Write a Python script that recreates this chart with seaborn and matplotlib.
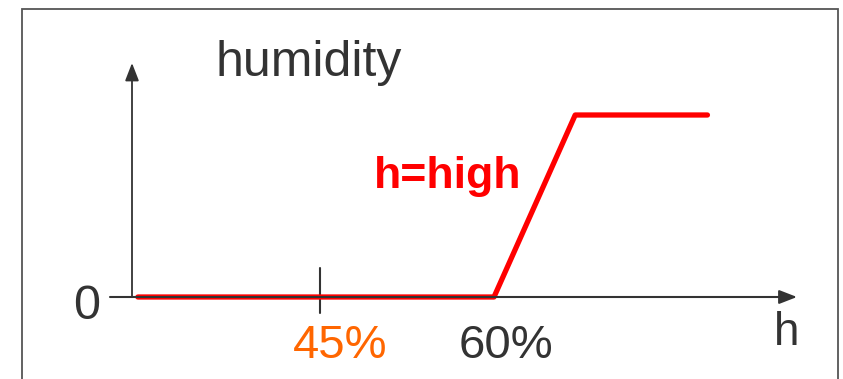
import pandas as pd
import numpy as np
import matplotlib.pyplot as plt
import seaborn as sns
from matplotlib.patches import Rectangle

# membership function "h = high" over humidity (%)
hum = [29.3, 60, 67, 78.4]
member = [0, 0, 1, 1]
tick_pos = [45, 60]
tick_labels = ["45%", "60%"]
tick_colors = ["#ff6600", "#333333"]

df = pd.DataFrame({"humidity": hum, "mu": member})

sns.set_theme(style="white")
plt.rcParams['font.family'] = ['Liberation Sans', 'DejaVu Sans']

fig = plt.figure(figsize=(8.43, 3.79), dpi=100)
ax = fig.add_axes([0, 0, 1, 1])

# pixel mapping: 45% -> x=320 px, 60% -> x=494 px; mu 0 -> y=297, mu 1 -> y=115
px_per = (494 - 320) / 15.0
x0 = 45 - 320 / px_per
x1 = 45 + (843 - 320) / px_per
py_per = 297 - 115
ax.set_xlim(x0, x1)
ax.set_ylim((297 - 379) / py_per, 297 / py_per)
ax.axis("off")

def px(x):
    return 45 + (x - 320) / px_per

def py(y):
    return (297 - y) / py_per

# frame around the picture
fig.patches.append(Rectangle((22 / 843, -0.05), (838 - 22) / 843, 1.05 - 9 / 379,
                             transform=fig.transFigure, fill=False,
                             edgecolor="#555555", linewidth=1.3))

# axes with arrow heads
axc = "#333333"
ax.annotate("", xy=(px(797), 0), xytext=(px(110), 0),
            arrowprops=dict(arrowstyle="-|>,head_length=0.9,head_width=0.35",
                            color=axc, lw=1.5, shrinkA=0, shrinkB=0))
ax.annotate("", xy=(px(132), py(63)), xytext=(px(132), 0),
            arrowprops=dict(arrowstyle="-|>,head_length=0.9,head_width=0.35",
                            color=axc, lw=1.3, shrinkA=0, shrinkB=0))

# tick at 45%
ax.plot([45, 45], [py(268), py(313)], color=axc, lw=1.5)

sns.lineplot(data=df, x="humidity", y="mu", color="#ff0000", linewidth=3.8,
             ax=ax, solid_joinstyle="round")
ax.axis("off")

ax.text(px(215), py(76), "humidity", fontsize=36, color="#333333", ha="left", va="baseline")
ax.text(px(448), py(188), "h=high", fontsize=32, color="#ff0000",
        fontweight="bold", ha="center", va="baseline")
ax.text(px(100), py(319), "0", fontsize=35, color="#333333", ha="right", va="baseline")
for p, lab, c in zip(tick_pos, tick_labels, tick_colors):
    ax.text(p + (20 if p == 45 else 12) / px_per, py(358), lab, fontsize=34, color=c,
            ha="center", va="baseline")
ax.text(px(787), py(345), "h", fontsize=33, color="#333333", ha="center", va="baseline")

fig.savefig("out.png", dpi=100)
